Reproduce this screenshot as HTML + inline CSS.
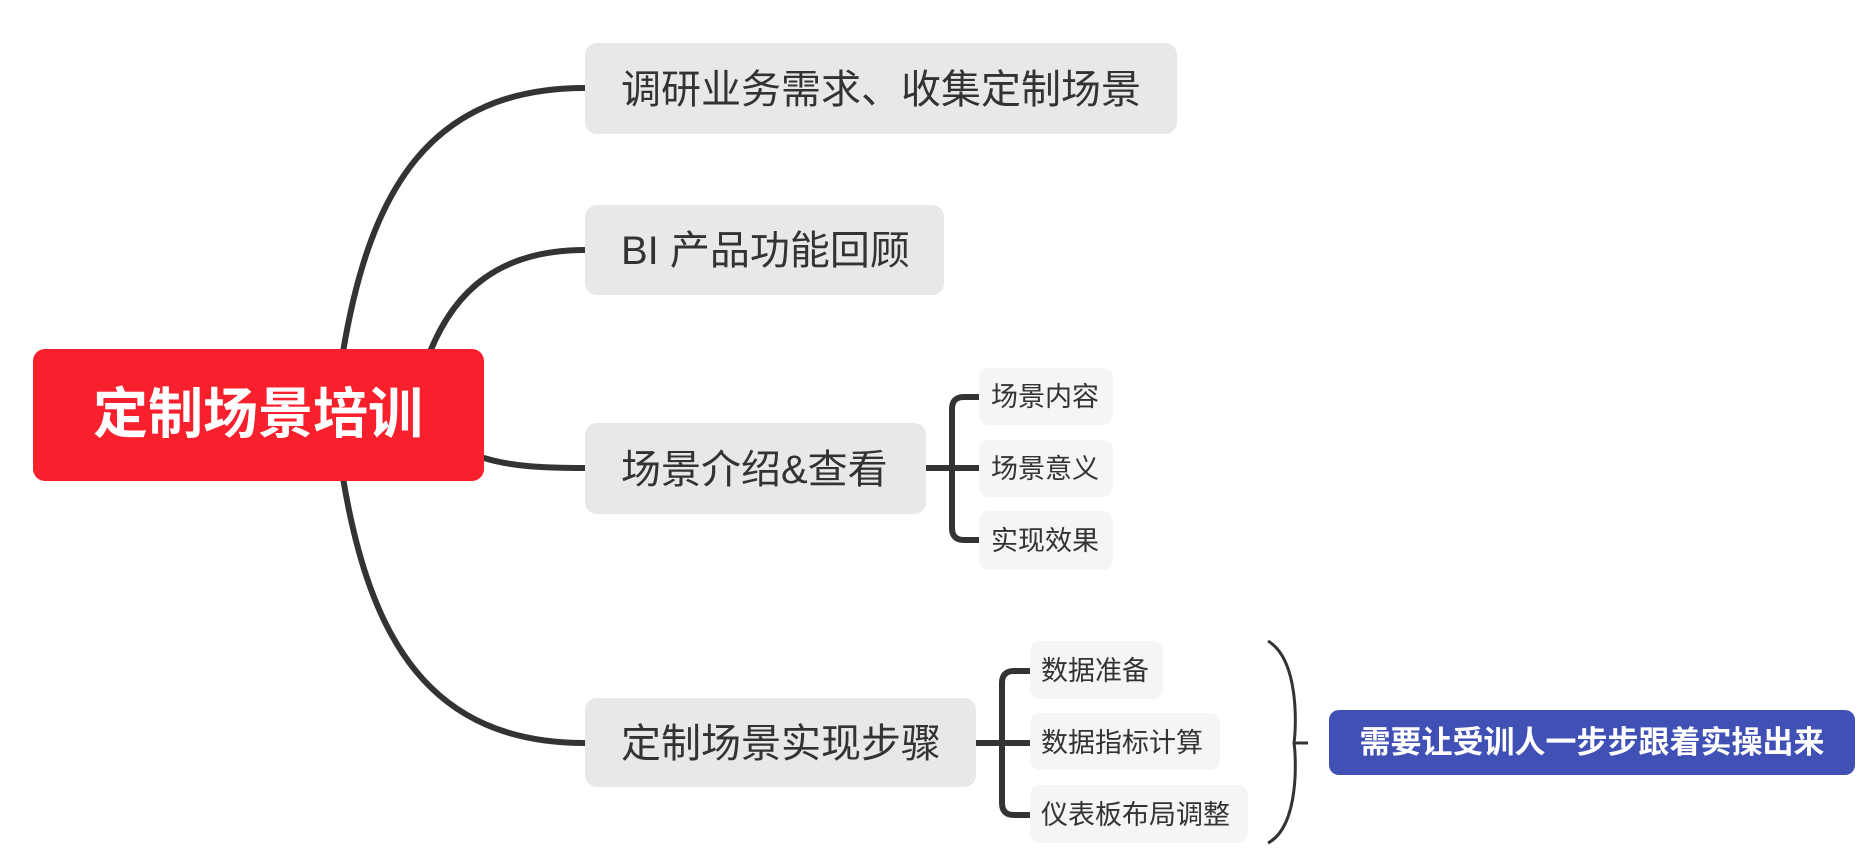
<!DOCTYPE html>
<html><head><meta charset="utf-8"><style>
html,body{margin:0;padding:0;background:#fff}
svg{display:block}
text{font-family:"Liberation Sans","Noto Sans CJK SC",sans-serif}
</style></head><body>
<svg width="1873" height="864" viewBox="0 0 1873 864" xmlns="http://www.w3.org/2000/svg">
<g fill="none" stroke="#333" stroke-width="6" stroke-linecap="round">
<path d="M343,352 C370,190 430,88 585,88"/>
<path d="M430,352 C455,290 500,250 585,250"/>
<path d="M484,458 C510,466 540,468 585,468"/>
<path d="M343,478 C370,640 430,743 585,743"/>
<path d="M926,468 H979"/>
<path d="M979,397 H964 Q952,397 952,409 V528 Q952,540 964,540 H979"/>
<path d="M976,743 H1030"/>
<path d="M1030,671 H1014 Q1002,671 1002,683 V803 Q1002,815 1014,815 H1030"/>
</g>
<path d="M1268,641 C1300,660 1296,730 1294,743 C1296,756 1300,826 1268,843" fill="none" stroke="#333" stroke-width="3"/>
<path d="M1294,743 H1308" stroke="#333" stroke-width="3"/>
<rect x="33" y="349" width="451" height="132" rx="12" fill="#f9202e"/>
<text x="258" y="433" font-size="55" font-weight="bold" fill="#fff" text-anchor="middle">定制场景培训</text>
<rect x="585" y="43" width="592" height="91" rx="12" fill="#e8e8e8"/>
<text x="621" y="103" font-size="40" fill="#333">调研业务需求、收集定制场景</text>
<rect x="585" y="205" width="359" height="90" rx="12" fill="#e8e8e8"/>
<text x="621" y="264" font-size="40" fill="#333">BI 产品功能回顾</text>
<rect x="585" y="423" width="341" height="91" rx="12" fill="#e8e8e8"/>
<text x="621" y="483" font-size="40" fill="#333">场景介绍&amp;查看</text>
<rect x="585" y="698" width="391" height="89" rx="12" fill="#e8e8e8"/>
<text x="621" y="757" font-size="40" fill="#333">定制场景实现步骤</text>
<g fill="#f5f5f5">
<rect x="979" y="368" width="134" height="57" rx="10"/>
<rect x="979" y="440" width="134" height="57" rx="10"/>
<rect x="979" y="511" width="134" height="59" rx="10"/>
<rect x="1030" y="641" width="133" height="58" rx="10"/>
<rect x="1030" y="713" width="190" height="57" rx="10"/>
<rect x="1030" y="785" width="218" height="58" rx="10"/>
</g>
<g font-size="27" fill="#333">
<text x="991" y="406">场景内容</text>
<text x="991" y="478">场景意义</text>
<text x="991" y="550">实现效果</text>
<text x="1041" y="680">数据准备</text>
<text x="1041" y="752">数据指标计算</text>
<text x="1041" y="824">仪表板布局调整</text>
</g>
<rect x="1329" y="710" width="526" height="65" rx="10" fill="#4050b5"/>
<text x="1592" y="753" font-size="31" font-weight="bold" fill="#fff" text-anchor="middle">需要让受训人一步步跟着实操出来</text>
</svg>
</body></html>
